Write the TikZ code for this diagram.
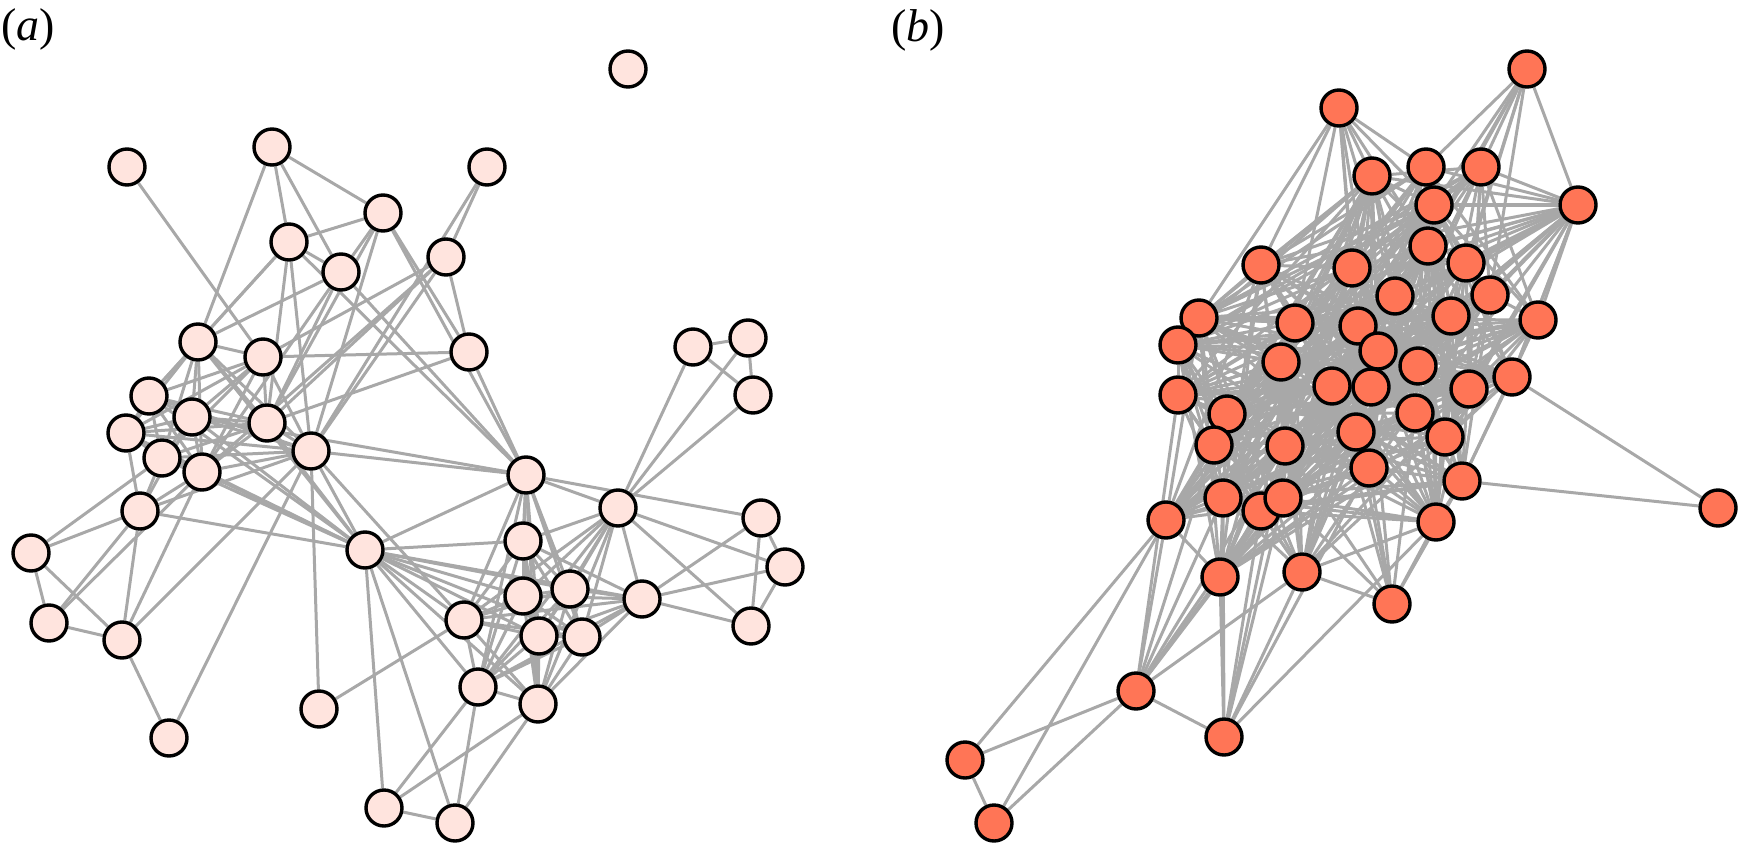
\documentclass[tikz,border=0pt]{standalone}
\usepackage{fontspec}
\setmainfont{Liberation Serif}
\usetikzlibrary{backgrounds}
\definecolor{linkgray}{RGB}{168,168,168}
\definecolor{paleface}{RGB}{255,228,222}
\definecolor{coralface}{RGB}{255,117,86}
\begin{document}
\begin{tikzpicture}[x=1pt,y=-1pt,
    vtx/.style={circle,draw=black,line width=3.4pt,minimum size=36pt,inner sep=0pt},
    lnk/.style={draw=linkgray,line width=3pt},
    tag/.style={anchor=base west,inner sep=0pt,font=\fontsize{46}{52}\selectfont}]
    \useasboundingbox (0,0) rectangle (1739,845);
    \node[tag] (T0) at (1,41) {(\textit{a})};
    \node[tag] (T1) at (891,42) {(\textit{b})};
    \foreach \n/\px/\py in {1/628/69, 2/127/167, 3/272/147, 4/487/167, 5/383/213,
        6/289/242, 7/341/272, 8/446/257, 9/198/342, 10/263/357, 11/469/352,
        12/149/396, 13/192/417, 14/126/433, 15/267/423, 16/311/451, 17/162/458,
        18/202/472, 19/140/511, 20/31/553, 21/49/623, 22/122/640, 23/169/738,
        24/365/550, 25/319/709, 26/384/808, 27/455/823, 28/526/475, 29/523/541,
        30/618/508, 31/693/347, 32/748/338, 33/753/395, 34/761/518, 35/785/567,
        36/751/626, 37/523/596, 38/570/589, 39/642/599, 40/464/620, 41/539/636,
        42/582/637, 43/478/687, 44/538/704}
      \node[vtx,fill=paleface] (A0_\n) at (\px,\py) {};
    \foreach \n/\px/\py in {1/1527/69, 2/1339/108, 3/1372/176, 4/1426/167,
        5/1481/167, 6/1578/205, 7/1434/205, 8/1428/246, 9/1466/263, 10/1261/265,
        11/1352/268, 12/1395/296, 13/1490/295, 14/1199/318, 15/1295/323,
        16/1358/326, 17/1451/316, 18/1538/320, 19/1178/345, 20/1378/351,
        21/1281/362, 22/1418/366, 23/1178/395, 24/1332/386, 25/1371/387,
        26/1469/389, 27/1512/377, 28/1227/414, 29/1415/413, 30/1214/445,
        31/1285/446, 32/1356/432, 33/1445/437, 34/1369/468, 35/1462/481,
        36/1223/498, 37/1261/511, 38/1283/498, 39/1166/520, 40/1436/522,
        41/1718/508, 42/1220/577, 43/1302/572, 44/1392/604, 45/1136/691,
        46/1224/737, 47/965/760, 48/994/823}
      \node[vtx,fill=coralface] (A1_\n) at (\px,\py) {};
    \begin{scope}[on background layer]
    \foreach \s/\t in {2/10, 3/5, 3/6, 3/7, 3/9, 4/8, 4/16, 5/6, 5/7, 5/11, 5/15,
        5/16, 5/28, 6/7, 6/9, 6/12, 6/15, 6/16, 6/28, 7/9, 7/15, 7/18, 7/28,
        8/10, 8/11, 8/15, 8/16, 8/18, 10/11, 11/15, 11/28,
        9/10, 9/12, 9/13, 9/14, 9/15, 9/16, 9/17, 9/18, 10/12, 10/13, 10/14,
        10/15, 10/16, 10/17, 10/18, 12/13, 12/14, 12/15, 12/16, 12/17, 12/18,
        13/14, 13/15, 13/16, 13/17, 13/18, 14/15, 14/16, 14/17, 14/18, 14/19,
        15/16, 15/17, 15/18, 16/17, 16/18, 17/18, 17/19, 18/19, 13/19, 16/19,
        19/20, 19/21, 19/22, 19/24, 20/21, 20/22, 20/17, 21/22, 21/18, 22/23,
        22/16, 22/18, 23/16, 16/24, 16/25, 16/28, 13/28, 16/40,
        12/24, 13/24, 14/24, 17/24, 18/24, 9/24, 15/24,
        24/28, 24/29, 24/37, 24/38, 24/40, 24/41, 24/42, 24/43, 24/44, 24/26,
        24/27, 24/39, 25/40, 26/27, 26/43, 26/44, 27/43, 27/44,
        28/29, 28/30, 28/34, 28/37, 28/38, 28/40, 28/41, 28/42, 28/43, 28/44,
        29/30, 29/37, 29/38, 29/39, 29/40, 29/41, 29/42, 29/43, 29/44,
        30/31, 30/32, 30/33, 30/35, 30/36, 30/37, 30/38, 30/39, 30/40, 30/41,
        30/42, 30/43, 30/44, 37/38, 37/39, 37/40, 37/41, 37/42, 37/43, 37/44,
        38/39, 38/40, 38/41, 38/42, 38/43, 38/44, 39/40, 39/41, 39/42, 39/43,
        39/44, 39/34, 39/35, 39/36, 40/41, 40/42, 40/43, 40/44, 41/42, 41/43,
        41/44, 42/43, 42/44, 43/44, 31/32, 31/33, 32/33, 34/35, 34/36, 35/36}
      \path (A0_\s) edge[lnk] (A0_\t);
    \foreach \s/\t in {1/4, 1/5, 1/6, 1/7, 1/8, 1/9, 1/12, 1/13, 1/17,
        2/3, 2/4, 2/7, 2/8, 2/10, 2/11, 2/12, 2/14, 2/15, 2/16, 2/20,
        6/4, 6/5, 6/7, 6/9, 6/13, 6/17, 6/18, 6/22, 6/27, 41/27, 41/35,
        47/48, 47/45, 47/39, 48/45, 48/39, 45/46, 45/42, 45/43, 45/39, 45/36,
        45/37, 45/38, 45/31, 45/23, 45/30, 46/42, 46/43, 46/38, 46/36, 46/31,
        46/34, 46/40, 46/37, 44/43, 44/34, 44/40, 44/31, 44/32, 44/29, 44/35,
        44/24, 44/38, 44/25}
      \path (A1_\s) edge[lnk] (A1_\t);
    \pgfmathsetseed{4242}
    \foreach \i in {3,...,43}{
      \foreach \j in {3,...,43}{
        \pgfmathtruncatemacro{\keep}{(\j>\i)*(\i!=41)*(\j!=41)*(rnd<0.5)}
        \ifnum\keep=1 \path (A1_\i) edge[lnk] (A1_\j); \fi
      }
    }
    \end{scope}
\end{tikzpicture}
\end{document}
